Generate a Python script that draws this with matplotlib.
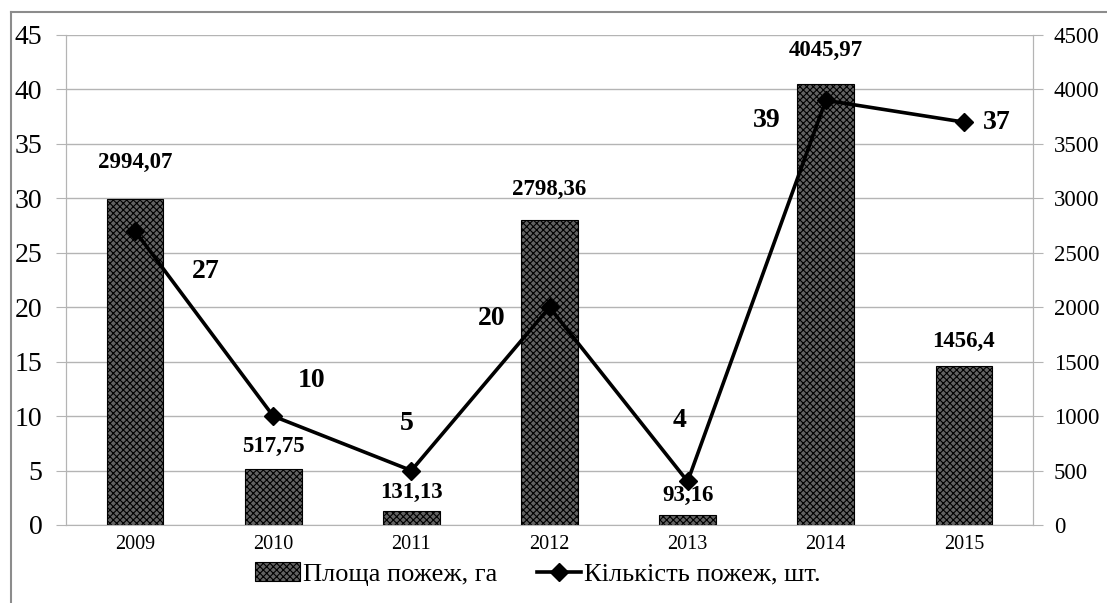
import matplotlib
matplotlib.use("Agg")
import matplotlib.pyplot as plt
from matplotlib.lines import Line2D
from matplotlib.patches import Patch

plt.rcParams['font.family'] = ['Liberation Serif', 'DejaVu Serif']
plt.rcParams['hatch.color'] = '#cfcfcf'
plt.rcParams['hatch.linewidth'] = 0.8

years = ['2009', '2010', '2011', '2012', '2013', '2014', '2015']
area = [2994.07, 517.75, 131.13, 2798.36, 93.16, 4045.97, 1456.4]
area_labels = ['2994,07', '517,75', '131,13', '2798,36', '93,16', '4045,97', '1456,4']
count = [27, 10, 5, 20, 4, 39, 37]

# label offsets for the line values, in pixels
count_offsets = [(71, -40), (38, 36), (-5, 47), (-58, -11), (-8, 61), (-59, -20), (33, 0)]
area_offsets = [37, 22, 18, 31, 19, 34, 25]

fig = plt.figure(figsize=(11.07, 6.03), dpi=100)
ax = fig.add_axes([66 / 1107, 1 - 525 / 603, (1033 - 66) / 1107, 490 / 603])
ax2 = ax.twinx()

x = list(range(len(years)))
grid_c = '#b4b4b4'
bar_c = '#626262'

# bars -> right axis (0..4500)
ax.bar(x, area, width=0.41, facecolor=bar_c, edgecolor='black',
       linewidth=0.8, hatch='xxxxx', zorder=2)
ax.set_ylim(0, 4500)
ax.set_xlim(-0.5, len(years) - 0.5)
ax.set_yticks(range(0, 4501, 500))
ax.yaxis.grid(True, color=grid_c, linewidth=1)
ax.set_axisbelow(True)
ax.set_xticks(x)
ax.set_xticklabels(years, fontsize=14.5)
ax.tick_params(axis='x', length=0, pad=7)
for i, v in enumerate(area):
    ax.annotate(area_labels[i], (x[i], v), xytext=(0, area_offsets[i]),
                textcoords='offset pixels', ha='center', va='center',
                fontsize=16.5, fontweight='bold')

for s in ['top']:
    ax.spines[s].set_visible(False)
for s in ['left', 'right', 'bottom']:
    ax.spines[s].set_color(grid_c)

# line -> left axis (0..45)
ax2.plot(x, count, color='black', linewidth=2.6, marker='D', markersize=9, zorder=3)
ax2.set_ylim(0, 45)
ax2.set_yticks(range(0, 46, 5))
for s in ['top', 'bottom']:
    ax2.spines[s].set_visible(False)
for s in ['left', 'right']:
    ax2.spines[s].set_color(grid_c)
for i, v in enumerate(count):
    dx, dy = count_offsets[i]
    ax2.annotate(str(v), (x[i], v), xytext=(dx, dy), textcoords='offset pixels',
                 ha='center', va='center', fontsize=20, fontweight='bold')

# swap tick sides after twinx
ax.yaxis.tick_right()
ax.tick_params(axis='y', direction='out', length=7, color=grid_c,
               labelsize=16.5, pad=8, right=True, left=False,
               labelright=True, labelleft=False)
ax2.yaxis.tick_left()
ax2.tick_params(axis='y', direction='out', length=7, color=grid_c,
                labelsize=20, pad=10, left=True, right=False,
                labelleft=True, labelright=False)

handles = [Patch(facecolor=bar_c, edgecolor='black', hatch='xxxxx', linewidth=0.8),
           Line2D([], [], color='black', linewidth=2.6, marker='D', markersize=9)]
fig.legend(handles, ['Площа пожеж, га', 'Кількість пожеж, шт.'],
           loc='center', bbox_to_anchor=(538 / 1107, 1 - 574 / 603), ncol=2,
           frameon=False, fontsize=19, handlelength=1.7, handletextpad=0.1,
           columnspacing=1.5, borderpad=0)

# outer chart frame
fig.add_artist(Line2D([11 / 1107, 11 / 1107], [0, 1 - 12 / 603], color='#8c8c8c',
                      linewidth=1.5, transform=fig.transFigure))
fig.add_artist(Line2D([11 / 1107, 1], [1 - 12 / 603, 1 - 12 / 603], color='#8c8c8c',
                      linewidth=1.5, transform=fig.transFigure))

fig.savefig('out.png', dpi=100)
